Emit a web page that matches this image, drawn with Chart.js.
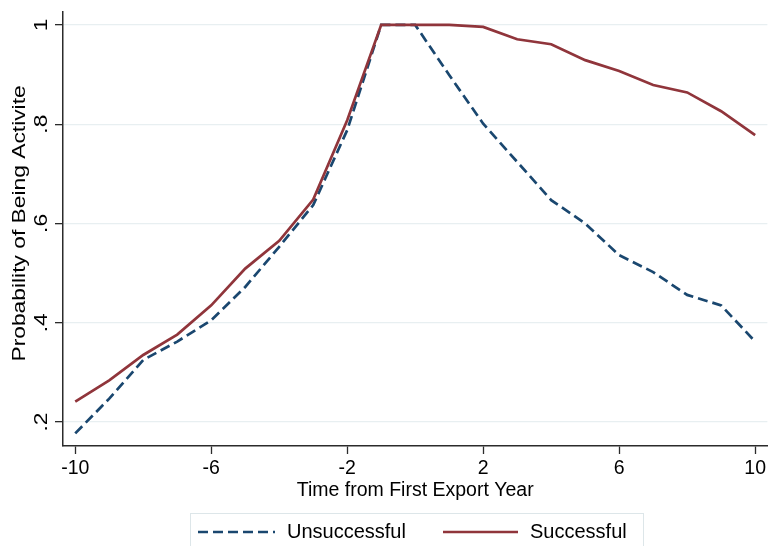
<!DOCTYPE html>
<html>
<head>
<meta charset="utf-8">
<script src="https://cdn.jsdelivr.net/npm/chart.js@4.4.1/dist/chart.umd.min.js"></script>
<style>
  html, body { margin: 0; padding: 0; background: #fff; }
  #wrap { width: 769px; height: 546px; }
</style>
</head>
<body>
<div id="wrap"><canvas id="chart" width="769" height="546"></canvas></div>
<script>
/* ---------- DATA ---------- */
const years = [-10, -9, -8, -7, -6, -5, -4, -3, -2, -1, 0, 1, 2, 3, 4, 5, 6, 7, 8, 9, 10];
const unsuccessful = [0.177, 0.247, 0.325, 0.362, 0.405, 0.472, 0.553, 0.637, 0.788, 1.0, 1.0,
                      0.899, 0.801, 0.724, 0.647, 0.600, 0.536, 0.502, 0.456, 0.435, 0.362];
const successful = [0.241, 0.284, 0.335, 0.376, 0.435, 0.509, 0.565, 0.648, 0.808, 1.0, 1.0,
                    1.0, 0.996, 0.971, 0.961, 0.929, 0.907, 0.879, 0.864, 0.826, 0.778];
const seriesNames = ["Unsuccessful", "Successful"];
const xTickValues = [-10, -6, -2, 2, 6, 10];
const yTickValues = [0.2, 0.4, 0.6, 0.8, 1];
const yTickLabels = [".2", ".4", ".6", ".8", "1"];
const xTitle = "Time from First Export Year";
const yTitle = "Probability of Being Activite";

const NAVY = "#1a476f";
const MAROON = "#90353b";
const AXIS = "#2b2b2b";
const FONT = "'Liberation Sans', Arial, sans-serif";

/* ---------- HELPERS ---------- */
function toPoints(vals){
  return years.map((x, i) => ({ x: x, y: vals[i] }));
}

// y tick labels + y title, rotated like Stata draws them
const yTextPlugin = {
  id: "yText",
  afterDraw(chart){
    const ctx = chart.ctx;
    const ys = chart.scales.y;
    ctx.save();
    ctx.fillStyle = "#000";
    ctx.textAlign = "center";
    ctx.textBaseline = "middle";
    ctx.font = "19px " + FONT;
    yTickValues.forEach((v, i) => {
      ctx.save();
      ctx.translate(42, ys.getPixelForValue(v));
      ctx.rotate(-Math.PI / 2);
      ctx.scale(1.2, 1);
      ctx.fillText(yTickLabels[i], 0, 0);
      ctx.restore();
    });
    const mid = (ys.getPixelForValue(yTickValues[0]) + ys.getPixelForValue(yTickValues[yTickValues.length - 1])) / 2;
    ctx.translate(20, mid);
    ctx.rotate(-Math.PI / 2);
    ctx.scale(1.2, 1);
    ctx.fillText(yTitle, 0, 0);
    ctx.restore();
  }
};

// boxed legend under the axis
const legendPlugin = {
  id: "boxLegend",
  afterDraw(chart){
    const ctx = chart.ctx;
    ctx.save();
    ctx.strokeStyle = "#dde6e9";
    ctx.lineWidth = 1;
    ctx.strokeRect(190.5, 513.5, 453, 40);
    ctx.font = "20px " + FONT;
    ctx.fillStyle = "#000";
    ctx.textBaseline = "middle";
    ctx.textAlign = "left";
    const items = [
      { x0: 198, x1: 275, tx: 287 },
      { x0: 443, x1: 518, tx: 530 }
    ];
    chart.data.datasets.forEach((ds, i) => {
      const it = items[i];
      ctx.save();
      ctx.strokeStyle = ds.borderColor;
      ctx.lineWidth = ds.borderWidth;
      ctx.setLineDash(ds.borderDash || []);
      ctx.beginPath();
      ctx.moveTo(it.x0, 532);
      ctx.lineTo(it.x1, 532);
      ctx.stroke();
      ctx.restore();
      ctx.fillText(ds.label, it.tx, 532);
    });
    ctx.restore();
  }
};

/* ---------- CHART ---------- */
new Chart(document.getElementById("chart"), {
  type: "line",
  data: {
    datasets: [
      { label: seriesNames[0], data: toPoints(unsuccessful), borderColor: NAVY, borderWidth: 2.7,
        borderDash: [10, 5], pointRadius: 0, tension: 0, fill: false, order: 1 },
      { label: seriesNames[1], data: toPoints(successful), borderColor: MAROON, borderWidth: 2.7,
        pointRadius: 0, tension: 0, fill: false, order: 0 }
    ]
  },
  options: {
    responsive: false,
    animation: false,
    events: [],
    layout: { padding: { top: 12, right: 0, left: 0, bottom: 44 } },
    plugins: { legend: { display: false }, tooltip: { enabled: false } },
    scales: {
      x: {
        type: "linear",
        min: -10.36,
        max: 10.36,
        afterBuildTicks: s => { s.ticks = xTickValues.map(v => ({ value: v })); },
        afterFit: s => { s.height = 56; },
        ticks: { color: "#000", font: { family: FONT, size: 19.5 }, padding: 3, maxRotation: 0,
                 callback: v => String(v) },
        grid: { drawOnChartArea: false, tickLength: 8, tickColor: AXIS, tickWidth: 1.3 },
        border: { color: AXIS, width: 1.5 },
        title: { display: true, text: xTitle, color: "#000", font: { family: FONT, size: 19.5 },
                 padding: { top: 0, bottom: 0 } }
      },
      y: {
        type: "linear",
        min: 0.1516,
        max: 1.026,
        afterBuildTicks: s => { s.ticks = yTickValues.map(v => ({ value: v })); },
        afterFit: s => { s.width = 63; },
        ticks: { display: false },
        grid: { color: "#e8eff1", lineWidth: 1.3, tickLength: 8, tickColor: AXIS, tickWidth: 1.3 },
        border: { color: AXIS, width: 1.5 }
      }
    }
  },
  plugins: [yTextPlugin, legendPlugin]
});
</script>
</body>
</html>
